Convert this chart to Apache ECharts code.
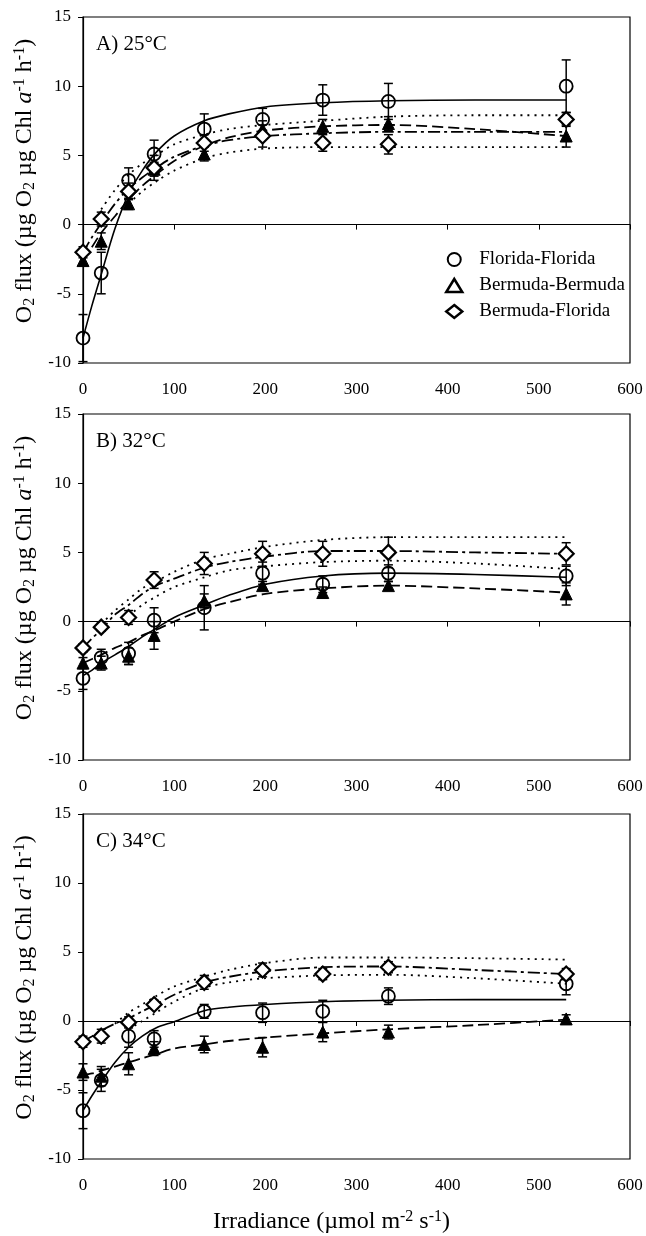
<!DOCTYPE html>
<html><head><meta charset="utf-8">
<script src="https://cdn.jsdelivr.net/npm/echarts@6/dist/echarts.min.js"></script>
<style>html,body{margin:0;padding:0;background:#fff}#c{width:646px;height:1236px}</style>
</head><body><div id="c"></div>
<script>
// ---- data ----
const irradiance = [0, 20, 50, 78, 133, 197, 263, 335, 530];
const fitX = [0, 10, 20, 35, 50, 65, 80, 100, 133, 160, 200, 263, 335, 430, 530];
const seriesNames = ['Florida-Florida', 'Bermuda-Bermuda', 'Bermuda-Florida'];
const panelLabels = ['A) 25°C', 'B) 32°C', 'C) 34°C'];
const xTicks = [0, 100, 200, 300, 400, 500, 600];
const yTicks = [-10, -5, 0, 5, 10, 15];

// Panel A (25°C)
const ffA = [-8.2, -3.5, 3.2, 5.1, 6.9, 7.6, 9.0, 8.9, 10.0];
const ffAErr = [1.7, 1.5, 0.9, 1.0, 1.1, 0.8, 1.1, 1.3, 1.9];
const bbA = [-2.6, -1.2, 1.5, 4.0, 5.1, 6.9, 7.1, 7.3, 6.4];
const bbAErr = [0.4, 0.6, 0.4, 0.5, 0.5, 0.6, 0.5, 0.5, 0.8];
const bfA = [-2.0, 0.4, 2.4, 4.1, 5.9, 6.4, 5.9, 5.8, 7.6];
const bfAErr = [0.4, 0.5, 0.6, 0.9, 0.6, 0.8, 0.6, 0.7, 0.5];
const fitFFA = [-8.2, -5.8, -3.6, -0.3, 2.2, 3.9, 5.2, 6.4, 7.5, 8.0, 8.5, 8.8, 8.95, 9.0, 9.0];
const fitBBA = [-2.6, -1.6, -0.6, 0.6, 1.8, 2.8, 3.6, 4.6, 5.7, 6.3, 6.8, 7.1, 7.2, 6.9, 6.4];
const fitBFA = [-2.0, -0.9, 0.1, 1.5, 2.6, 3.4, 4.1, 4.9, 5.7, 6.1, 6.4, 6.6, 6.7, 6.7, 6.7];
const bandUpA = [null, null, 1.1, 2.5, 3.6, 4.4, 5.0, 5.8, 6.5, 6.9, 7.2, 7.5, 7.8, 7.9, 7.9];
const bandLoA = [null, null, null, null, 1.5, 2.4, 3.1, 3.9, 4.8, 5.2, 5.5, 5.6, 5.6, 5.6, 5.6];

// Panel B (32°C)
const ffB = [-4.1, -2.6, -2.3, 0.1, 1.0, 3.5, 2.7, 3.5, 3.3];
const ffBErr = [0.8, 0.6, 0.8, 0.9, 1.6, 0.8, 0.6, 0.6, 0.7];
const bbB = [-3.0, -3.0, -2.5, -1.0, 1.5, 2.6, 2.1, 2.6, 2.0];
const bbBErr = [0.4, 0.5, 0.6, 1.0, 0.5, 0.3, 0.4, 0.3, 0.8];
const bfB = [-1.9, -0.4, 0.3, 3.0, 4.2, 4.9, 4.9, 5.0, 4.9];
const bfBErr = [0.3, 0.3, 0.5, 0.6, 0.8, 0.9, 0.9, 1.1, 0.8];
const fitFFB = [-3.9, -3.5, -3.0, -2.4, -1.8, -1.1, -0.5, 0.3, 1.2, 1.9, 2.7, 3.3, 3.5, 3.4, 3.2];
const fitBBB = [-3.0, -2.7, -2.4, -1.9, -1.5, -1.0, -0.6, 0.0, 0.9, 1.4, 2.0, 2.4, 2.6, 2.4, 2.1];
const fitBFB = [-1.9, -1.2, -0.6, 0.5, 1.2, 2.0, 2.6, 3.1, 3.9, 4.3, 4.7, 5.1, 5.1, 5.0, 4.9];
const bandUpB = [null, null, -0.2, 0.8, 1.6, 2.4, 2.9, 3.6, 4.5, 4.9, 5.4, 5.9, 6.1, 6.1, 6.1];
const bandLoB = [null, null, null, null, 0.4, 1.2, 1.8, 2.5, 3.2, 3.7, 4.0, 4.3, 4.4, 4.2, 3.8];

// Panel C (34°C)
const ffC = [-6.5, -4.3, -1.1, -1.3, 0.7, 0.6, 0.7, 1.8, 2.7];
const ffCErr = [1.3, 0.8, 0.8, 0.6, 0.5, 0.7, 0.8, 0.6, 0.8];
const bbC = [-3.7, -4.0, -3.1, -2.0, -1.7, -1.9, -0.8, -0.8, 0.15];
const bbCErr = [0.6, 0.7, 0.8, 0.5, 0.6, 0.7, 0.7, 0.5, 0.3];
const bfC = [-1.5, -1.1, -0.1, 1.2, 2.8, 3.7, 3.4, 3.9, 3.4];
const bfCErr = [0.4, 0.5, 0.4, 0.3, 0.5, 0.5, 0.4, 0.4, 0.4];
const fitFFC = [-6.5, -5.4, -4.4, -3.0, -1.9, -1.1, -0.5, -0.05, 0.75, 1.0, 1.2, 1.4, 1.5, 1.55, 1.55];
const fitBBC = [-3.9, -3.8, -3.6, -3.3, -3.0, -2.7, -2.4, -2.0, -1.7, -1.45, -1.2, -0.9, -0.6, -0.3, 0.1];
const fitBFC = [-1.5, -1.1, -0.7, -0.2, 0.2, 0.7, 1.2, 1.9, 2.8, 3.2, 3.6, 3.9, 3.95, 3.7, 3.4];
const bandUpC = [null, null, null, -0.2, 0.6, 1.2, 1.8, 2.5, 3.2, 3.7, 4.2, 4.6, 4.6, 4.55, 4.45];
const bandLoC = [null, null, null, null, -0.6, 0.0, 0.6, 1.4, 2.4, 2.8, 3.1, 3.3, 3.35, 3.1, 2.7];

// ---- build ----
const FONT = '"Liberation Serif", "Times New Roman", serif';
const panels = [
  {pts: [ffA, bbA, bfA], errs: [ffAErr, bbAErr, bfAErr], fits: [fitFFA, fitBBA, fitBFA], band: [bandUpA, bandLoA]},
  {pts: [ffB, bbB, bfB], errs: [ffBErr, bbBErr, bfBErr], fits: [fitFFB, fitBBB, fitBFB], band: [bandUpB, bandLoB]},
  {pts: [ffC, bbC, bfC], errs: [ffCErr, bbCErr, bfCErr], fits: [fitFFC, fitBBC, fitBFC], band: [bandUpC, bandLoC]}
];
const gridTops = [17, 414, 814];
const gridHeights = [346, 346, 348];

const grids = [], xAxes = [], yAxes = [], series = [], titles = [];
const yName = 'O{sub|2} flux (µg O{sub|2} µg Chl {it|a}{sup|-1} h{sup|-1})';
const subStyle = {fontSize: 16, fontFamily: FONT, color: '#000', verticalAlign: 'bottom', lineHeight: 6};
const supStyle = {fontSize: 16, fontFamily: FONT, color: '#000', verticalAlign: 'top', lineHeight: 6};
const richY = {
  sub: subStyle, sup: supStyle,
  it: {fontSize: 24, fontFamily: FONT, color: '#000', fontStyle: 'italic', lineHeight: 26}
};
const fitStyles = [
  {type: 'solid', width: 1.6},
  {type: [11, 5], width: 1.8},
  {type: [12, 4, 3, 4], width: 1.8}
];
const symbols = [
  {symbol: 'circle', size: 13, style: {color: 'rgba(0,0,0,0)', borderColor: '#000', borderWidth: 1.8, opacity: 1}},
  {symbol: 'triangle', size: 12, style: {color: '#000', borderColor: '#000', borderWidth: 1, opacity: 1}},
  {symbol: 'diamond', size: 15, style: {color: '#fff', borderColor: '#000', borderWidth: 2.2, opacity: 1}}
];

function errRender(params, api) {
  const x = api.value(0);
  const lo = api.coord([x, api.value(1)]);
  const hi = api.coord([x, api.value(2)]);
  const w = 4.5;
  const st = {stroke: '#000', lineWidth: 1.5};
  return {type: 'group', children: [
    {type: 'line', shape: {x1: lo[0], y1: lo[1], x2: hi[0], y2: hi[1]}, style: st},
    {type: 'line', shape: {x1: lo[0] - w, y1: lo[1], x2: lo[0] + w, y2: lo[1]}, style: st},
    {type: 'line', shape: {x1: hi[0] - w, y1: hi[1], x2: hi[0] + w, y2: hi[1]}, style: st}
  ]};
}

panels.forEach((p, i) => {
  grids.push({left: 83, width: 547, top: gridTops[i], height: gridHeights[i], show: true,
    borderColor: '#000', borderWidth: 1.2, backgroundColor: 'transparent'});
  xAxes.push({
    type: 'value', gridIndex: i, min: xTicks[0], max: xTicks[xTicks.length - 1], interval: 100,
    axisLine: {lineStyle: {color: '#000', width: 1.2}},
    axisTick: {show: true, inside: false, length: 5, lineStyle: {color: '#000'}},
    axisLabel: {color: '#000', fontFamily: FONT, fontSize: 17, margin: 18},
    splitLine: {show: false},
    name: i === 2 ? 'Irradiance (µmol m{sup|-2} s{sup|-1})' : '',
    nameLocation: 'middle', nameGap: 50,
    nameTextStyle: {color: '#000', fontFamily: FONT, fontSize: 24, lineHeight: 26, padding: [0, 50, 0, 0],
      rich: {sup: supStyle}}
  });
  yAxes.push({
    type: 'value', gridIndex: i, min: yTicks[0], max: yTicks[yTicks.length - 1], interval: 5,
    axisLine: {show: true, lineStyle: {color: '#000', width: 1.2}},
    axisTick: {show: true, inside: false, length: 5, lineStyle: {color: '#000'}},
    axisLabel: {color: '#000', fontFamily: FONT, fontSize: 17, margin: 12},
    splitLine: {show: false},
    name: yName, nameLocation: 'middle', nameGap: 40,
    nameTextStyle: {color: '#000', fontFamily: FONT, fontSize: 24, lineHeight: 26, padding: [0, 0, 0, 18], rich: richY}
  });
  titles.push({text: panelLabels[i], left: 91, top: gridTops[i] + 12,
    textStyle: {fontFamily: FONT, fontSize: 21, fontWeight: 'normal', color: '#000'}});

  // confidence band (dotted)
  p.band.forEach((b, k) => {
    series.push({type: 'line', xAxisIndex: i, yAxisIndex: i, silent: true, showSymbol: false, smooth: 0.3,
      data: fitX.map((x, j) => [x, b[j] === null ? '-' : b[j]]),
      lineStyle: {color: '#000', width: 1.8, type: [2, 5]}, z: 2,
      markLine: k === 0 ? {silent: true, symbol: 'none', label: {show: false},
        lineStyle: {color: '#000', width: 1, type: 'solid'}, data: [{yAxis: 0}]} : undefined
    });
  });
  // fitted curves
  p.fits.forEach((f, k) => {
    series.push({type: 'line', xAxisIndex: i, yAxisIndex: i, silent: true, showSymbol: false, smooth: 0.3,
      data: fitX.map((x, j) => [x, f[j]]),
      lineStyle: {color: '#000', width: fitStyles[k].width, type: fitStyles[k].type}, z: 3});
  });
  // error bars
  p.pts.forEach((v, k) => {
    series.push({type: 'custom', xAxisIndex: i, yAxisIndex: i, silent: true, renderItem: errRender,
      encode: {x: 0, y: [1, 2]}, z: 4,
      data: irradiance.map((x, j) => [x, v[j] - p.errs[k][j], v[j] + p.errs[k][j]])});
  });
  // points
  p.pts.forEach((v, k) => {
    series.push({type: 'scatter', name: seriesNames[k], xAxisIndex: i, yAxisIndex: i,
      symbol: symbols[k].symbol, symbolSize: symbols[k].size, itemStyle: symbols[k].style, z: 5,
      data: irradiance.map((x, j) => [x, v[j]])});
  });
});

const option = {
  animation: false,
  backgroundColor: '#fff',
  title: titles,
  grid: grids, xAxis: xAxes, yAxis: yAxes,
  legend: {
    orient: 'vertical', left: 440, top: 245, itemGap: 7, itemWidth: 16, itemHeight: 13,
    textStyle: {fontFamily: FONT, fontSize: 19, color: '#000', padding: [0, 0, 0, 12]},
    data: [
      {name: seriesNames[0], icon: 'circle', itemStyle: {color: '#fff', borderColor: '#000', borderWidth: 2, opacity: 1}},
      {name: seriesNames[1], icon: 'triangle', itemStyle: {color: '#fff', borderColor: '#000', borderWidth: 2.5, opacity: 1}},
      {name: seriesNames[2], icon: 'diamond', itemStyle: {color: '#fff', borderColor: '#000', borderWidth: 2.5, opacity: 1}}
    ]
  },
  series: series
};
const chart = echarts.init(document.getElementById('c'), null, {renderer: 'canvas'});
chart.setOption(option);
</script></body></html>
